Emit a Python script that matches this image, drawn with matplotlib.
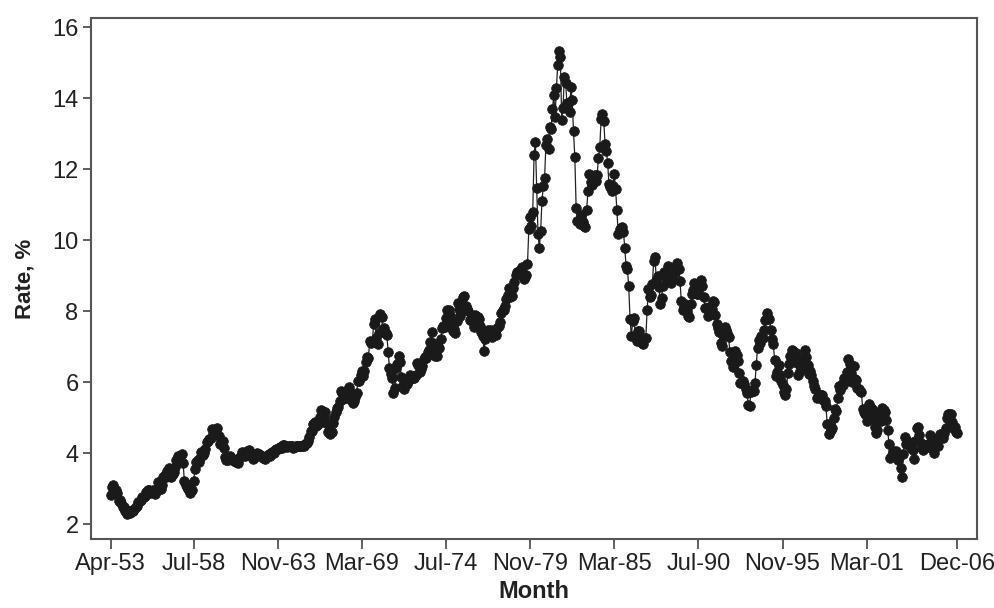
import numpy as np
import matplotlib
matplotlib.use("Agg")
import matplotlib.pyplot as plt

# monthly rate, %, Apr-53 .. Dec-06
rate_1953_59 = [
    2.83, 3.05, 3.11, 2.93, 2.95, 2.87, 2.66, 2.68, 2.59,
    2.48, 2.47, 2.37, 2.29, 2.37, 2.38, 2.30, 2.36, 2.38, 2.43, 2.48, 2.51,
    2.61, 2.65, 2.68, 2.75, 2.76, 2.78, 2.90, 2.97, 2.97, 2.88, 2.89, 2.96,
    2.90, 2.84, 2.96, 3.18, 3.07, 3.00, 3.11, 3.33, 3.38, 3.34, 3.49, 3.59,
    3.46, 3.34, 3.41, 3.48, 3.60, 3.80, 3.93, 3.93, 3.92, 3.97, 3.72, 3.21,
    3.09, 3.05, 2.98, 2.88, 2.92, 2.97, 3.20, 3.54, 3.76, 3.80, 3.74, 3.86,
    4.02, 3.96, 3.99, 4.12, 4.31, 4.34, 4.40, 4.43, 4.68, 4.53, 4.53, 4.69,
]
rate_1960s = [
    4.72, 4.49, 4.25, 4.28, 4.35, 4.15, 3.90, 3.80, 3.80, 3.89, 3.93, 3.84,
    3.84, 3.78, 3.74, 3.78, 3.71, 3.88, 3.92, 4.04, 3.98, 3.92, 3.94, 4.06,
    4.08, 4.04, 3.93, 3.84, 3.87, 3.91, 4.01, 3.98, 3.98, 3.93, 3.92, 3.86,
    3.83, 3.92, 3.93, 3.97, 3.93, 3.99, 4.02, 4.00, 4.08, 4.11, 4.12, 4.13,
    4.17, 4.15, 4.22, 4.23, 4.20, 4.17, 4.19, 4.19, 4.20, 4.19, 4.15, 4.18,
    4.19, 4.21, 4.21, 4.20, 4.21, 4.21, 4.20, 4.25, 4.29, 4.35, 4.45, 4.62,
    4.61, 4.83, 4.87, 4.75, 4.78, 4.81, 5.02, 5.22, 5.18, 5.01, 5.16, 4.84,
    4.58, 4.63, 4.54, 4.59, 4.85, 5.02, 5.16, 5.28, 5.30, 5.48, 5.75, 5.70,
    5.53, 5.56, 5.74, 5.64, 5.87, 5.72, 5.50, 5.42, 5.46, 5.58, 5.70, 6.03,
    6.04, 6.19, 6.30, 6.17, 6.32, 6.57, 6.72, 6.69, 7.16, 7.10, 7.14, 7.65,
]
rate_1970s = [
    7.79, 7.24, 7.07, 7.39, 7.91, 7.84, 7.46, 7.53, 7.39, 7.33, 6.84, 6.39,
    6.24, 6.11, 5.70, 5.83, 6.39, 6.52, 6.73, 6.58, 6.14, 5.93, 5.81, 5.93,
    5.95, 6.08, 6.07, 6.19, 6.13, 6.11, 6.11, 6.21, 6.55, 6.48, 6.28, 6.36,
    6.46, 6.64, 6.71, 6.67, 6.85, 6.90, 7.13, 7.40, 7.09, 6.79, 6.73, 6.74,
    6.99, 6.96, 7.21, 7.51, 7.58, 7.54, 7.81, 8.04, 8.04, 7.90, 7.68, 7.43,
    7.50, 7.39, 7.73, 8.23, 8.06, 7.86, 8.06, 8.40, 8.43, 8.14, 8.05, 8.00,
    7.74, 7.79, 7.73, 7.56, 7.90, 7.86, 7.83, 7.77, 7.59, 7.41, 7.29, 6.87,
    7.21, 7.39, 7.46, 7.37, 7.46, 7.28, 7.33, 7.40, 7.34, 7.52, 7.58, 7.69,
    7.96, 8.03, 8.04, 8.15, 8.35, 8.46, 8.64, 8.41, 8.42, 8.64, 8.81, 9.01,
    9.10, 9.10, 9.12, 9.18, 9.25, 8.91, 8.95, 9.03, 9.33, 10.30, 10.65, 10.39,
]
rate_1980s = [
    10.80, 12.41, 12.75, 11.47, 10.18, 9.78, 10.25, 11.10, 11.51, 11.75, 12.68, 12.84,
    12.57, 13.19, 13.12, 13.68, 14.10, 13.47, 14.28, 14.94, 15.32, 15.15, 13.39, 13.72,
    14.59, 14.43, 13.86, 13.87, 13.62, 14.30, 13.95, 13.06, 12.34, 10.91, 10.55, 10.54,
    10.46, 10.72, 10.51, 10.40, 10.38, 10.85, 11.38, 11.85, 11.65, 11.54, 11.69, 11.83,
    11.67, 11.84, 12.32, 12.63, 13.41, 13.56, 13.36, 12.72, 12.52, 12.16, 11.57, 11.50,
    11.38, 11.51, 11.86, 11.43, 10.85, 10.16, 10.31, 10.33, 10.37, 10.24, 9.78, 9.26,
    9.19, 8.70, 7.78, 7.30, 7.71, 7.80, 7.30, 7.17, 7.45, 7.43, 7.25, 7.11,
    7.08, 7.25, 7.25, 8.02, 8.61, 8.40, 8.45, 8.76, 9.42, 9.52, 8.86, 8.99,
    8.67, 8.21, 8.37, 8.72, 9.09, 8.92, 9.06, 9.26, 8.98, 8.80, 8.96, 9.11,
    9.09, 9.17, 9.36, 9.18, 8.86, 8.28, 8.02, 8.11, 8.19, 8.01, 7.87, 7.84,
]
rate_1990s = [
    8.21, 8.47, 8.59, 8.79, 8.76, 8.48, 8.47, 8.75, 8.89, 8.72, 8.39, 8.08,
    8.09, 7.85, 8.11, 8.04, 8.07, 8.28, 8.27, 7.90, 7.65, 7.53, 7.42, 7.09,
    7.03, 7.34, 7.54, 7.48, 7.39, 7.26, 6.84, 6.59, 6.42, 6.59, 6.87, 6.77,
    6.60, 6.26, 5.98, 5.97, 6.04, 5.96, 5.81, 5.68, 5.36, 5.33, 5.72, 5.77,
    5.75, 5.97, 6.48, 6.97, 7.18, 7.10, 7.30, 7.24, 7.46, 7.74, 7.96, 7.81,
    7.78, 7.47, 7.20, 7.06, 6.63, 6.17, 6.28, 6.49, 6.20, 6.04, 5.93, 5.71,
    5.65, 5.81, 6.27, 6.51, 6.74, 6.91, 6.87, 6.64, 6.83, 6.53, 6.20, 6.30,
    6.58, 6.42, 6.69, 6.89, 6.71, 6.49, 6.22, 6.30, 6.21, 6.03, 5.88, 5.81,
    5.54, 5.57, 5.65, 5.64, 5.65, 5.50, 5.46, 5.34, 4.81, 4.53, 4.83, 4.65,
    4.72, 5.00, 5.23, 5.18, 5.54, 5.90, 5.79, 5.94, 5.92, 6.11, 6.03, 6.28,
]
rate_2000s = [
    6.66, 6.52, 6.26, 5.99, 6.44, 6.10, 6.05, 5.83, 5.80, 5.74, 5.72, 5.24,
    5.16, 5.10, 4.89, 5.14, 5.39, 5.28, 5.24, 4.97, 4.73, 4.57, 4.65, 5.09,
    5.04, 4.91, 5.28, 5.21, 5.16, 4.93, 4.65, 4.26, 3.87, 3.94, 4.05, 4.03,
    4.05, 3.90, 3.81, 3.96, 3.57, 3.33, 3.98, 4.45, 4.27, 4.29, 4.30, 4.27,
    4.15, 4.08, 3.83, 4.35, 4.72, 4.73, 4.50, 4.28, 4.13, 4.10, 4.19, 4.23,
    4.22, 4.17, 4.50, 4.34, 4.14, 4.00, 4.18, 4.26, 4.20, 4.46, 4.54, 4.47,
    4.42, 4.57, 4.72, 4.99, 5.11, 5.11, 5.09, 4.88, 4.72, 4.73, 4.60, 4.56,
]
tick_labels = ["Apr-53", "Jul-58", "Nov-63", "Mar-69", "Jul-74", "Nov-79",
               "Mar-85", "Jul-90", "Nov-95", "Mar-01", "Dec-06"]

rate = np.array(rate_1953_59 + rate_1960s + rate_1970s + rate_1980s
                + rate_1990s + rate_2000s)
month = np.arange(1, len(rate) + 1)

# tick positions = observation index of each labelled month
months = ["Jan", "Feb", "Mar", "Apr", "May", "Jun",
          "Jul", "Aug", "Sep", "Oct", "Nov", "Dec"]
def month_index(lbl):
    m, y = lbl.split("-")
    y = int(y) + (1900 if int(y) > 50 else 2000)
    return (y - 1953) * 12 + months.index(m) - 3 + 1
tick_pos = [month_index(t) for t in tick_labels]

plt.rcParams['font.family'] = ['Liberation Sans', 'DejaVu Sans']

fig = plt.figure(figsize=(9.95, 6.08), dpi=100)
ax = fig.add_axes([0.0915, 0.1135, 0.8905, 0.8565])
ax.plot(month, rate, color='#222222', linewidth=0.9,
        marker='o', markersize=7, markerfacecolor='#1a1a1a',
        markeredgecolor='#1a1a1a', markeredgewidth=0.5)

ax.set_xlim(-14, 660)
ax.set_ylim(1.58, 16.25)
ax.set_yticks([2, 4, 6, 8, 10, 12, 14, 16])
ax.set_xticks(tick_pos)
ax.set_xticklabels(tick_labels)
ax.tick_params(axis='both', direction='out', labelsize=17, width=1.2,
               color='#444444', labelcolor='#222222')
ax.tick_params(axis='x', length=7, pad=3)
ax.tick_params(axis='y', length=6, pad=3)
for s in ax.spines.values():
    s.set_color('#555555')
    s.set_linewidth(1.5)

ax.set_xlabel('Month', fontsize=17, fontweight='bold', labelpad=4, color='#222222')
ax.set_ylabel('Rate, %', fontsize=16, fontweight='bold', labelpad=12, color='#222222')

fig.savefig('out.png', dpi=100)
